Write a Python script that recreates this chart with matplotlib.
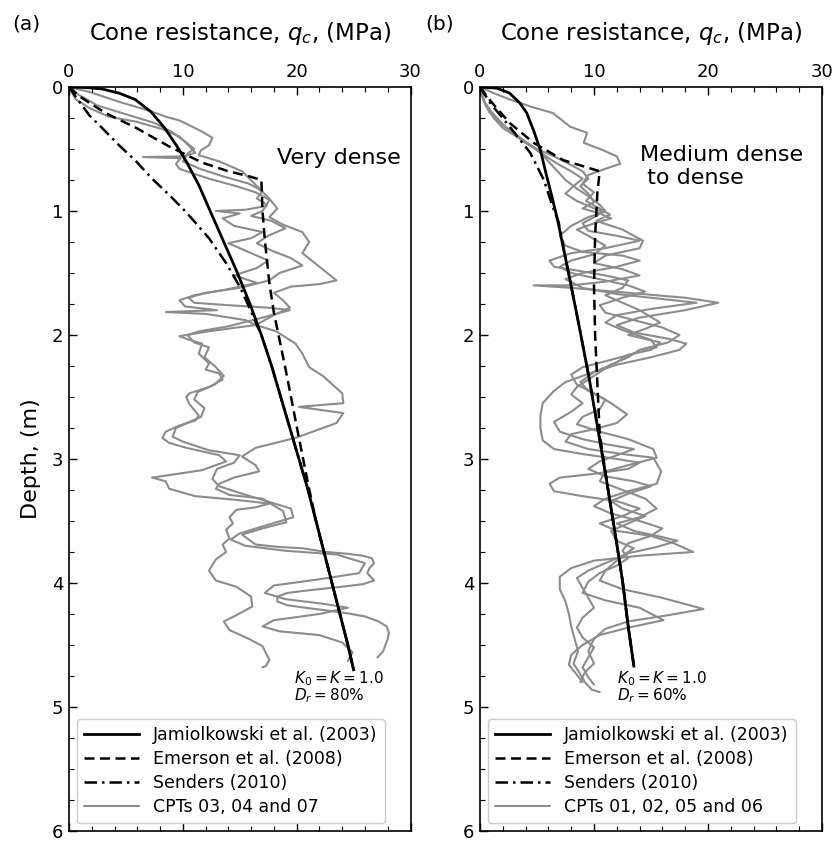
import matplotlib
matplotlib.use("Agg")
import matplotlib.pyplot as plt
import numpy as np

# ---------------- Panel (a): very dense sand ----------------
jam_a_q = [0, 1.5, 2.9, 4.4, 5.8, 7.2, 8.4, 9.5, 10.3, 11.4, 12.4, 13.6, 14.8, 15.9, 16.9, 17.8, 18.6,
           19.4, 20.2, 21.0, 21.7, 22.4, 23.1, 23.8, 24.5, 25.0]
jam_a_d = [0, 0.005, 0.016, 0.05, 0.10, 0.20, 0.33, 0.48, 0.60, 0.79, 1.0, 1.25, 1.5, 1.75, 2.0, 2.25, 2.5,
           2.75, 3.0, 3.25, 3.5, 3.75, 4.0, 4.25, 4.5, 4.70]

emer_a_q = [0, 1.0, 2.0, 3.2, 5.9, 8.8, 11.7, 14.0, 15.8, 16.9, 17.0, 17.2, 17.6, 18.0, 18.5, 19.1, 19.5,
            20.2, 21.0, 21.7, 22.4, 23.1, 23.8, 24.5, 25.0]
emer_a_d = [0, 0.08, 0.14, 0.21, 0.33, 0.48, 0.61, 0.68, 0.72, 0.75, 1.0, 1.23, 1.58, 1.82, 2.04, 2.31, 2.50,
            2.83, 3.20, 3.5, 3.75, 4.0, 4.25, 4.5, 4.70]

send_a_q = [0, 0.6, 1.8, 2.9, 4.4, 5.9, 7.3, 8.8, 10.3, 12.3, 13.8, 15.0, 15.8, 16.5, 16.9, 17.8, 18.6,
            19.4, 20.2, 21.0, 21.7, 22.4, 23.1, 23.8, 24.5, 25.0]
send_a_d = [0, 0.08, 0.23, 0.33, 0.47, 0.60, 0.74, 0.87, 1.01, 1.22, 1.42, 1.61, 1.77, 1.92, 2.0, 2.25, 2.5,
            2.75, 3.0, 3.25, 3.5, 3.75, 4.0, 4.25, 4.5, 4.70]

cpt_a1 = [(0, 0), (1.8, 0.04), (4.4, 0.12), (7.0, 0.19), (8.5, 0.24), (9.7, 0.27), (11.7, 0.36), (12.6, 0.41),
          (12.3, 0.47), (11.6, 0.51), (11.4, 0.55), (13.2, 0.60), (15.2, 0.68), (16.4, 0.79), (17.6, 0.90),
          (18.3, 0.98), (17.6, 1.05), (18.8, 1.11), (20.5, 1.17), (21.1, 1.25), (20.5, 1.34), (22.0, 1.45),
          (23.5, 1.56), (22.0, 1.59), (19.5, 1.61), (18.0, 1.66), (18.8, 1.72), (19.4, 1.78), (18.0, 1.84),
          (16.4, 1.92), (18.2, 1.97), (19.9, 2.07), (20.5, 2.15), (21.1, 2.26), (22.3, 2.33), (24.0, 2.47),
          (24.1, 2.55), (20.2, 2.58), (24.1, 2.63), (23.5, 2.71), (19.9, 2.83), (16.4, 2.91), (15.2, 2.98),
          (16.4, 3.05), (16.7, 3.10), (14.5, 3.15), (13.2, 3.20), (12.9, 3.24), (14.1, 3.29), (17.0, 3.32),
          (18.8, 3.42), (19.1, 3.51), (17.0, 3.56), (15.2, 3.61), (16.4, 3.69), (18.5, 3.71), (20.5, 3.72),
          (22.6, 3.75), (24.5, 3.765), (25.8, 3.78), (26.6, 3.80), (26.8, 3.84), (26.4, 3.88), (26.2, 3.92),
          (26.6, 3.96), (26.8, 3.98), (25.8, 4.01), (24.0, 4.03), (21.0, 4.06), (19.2, 4.08), (18.3, 4.11),
          (18.3, 4.15), (19.2, 4.18), (20.8, 4.20), (22.5, 4.22), (24.5, 4.245), (26.0, 4.27), (27.2, 4.31),
          (27.9, 4.35), (28.1, 4.40), (28.0, 4.45), (27.8, 4.50), (27.6, 4.55), (27.3, 4.58), (27.1, 4.60)]

cpt_a2 = [(0, 0), (0.6, 0.10), (1.8, 0.17), (3.5, 0.24), (5.9, 0.28), (8.2, 0.34), (9.7, 0.40), (10.6, 0.48),
          (11.1, 0.53), (10.0, 0.56), (6.5, 0.565), (9.8, 0.575), (9.4, 0.62), (9.7, 0.66), (12.3, 0.74),
          (14.7, 0.80), (16.4, 0.85), (17.6, 0.91), (17.3, 0.96), (15.5, 0.99), (12.9, 1.00), (15.0, 1.02),
          (13.5, 1.06), (14.5, 1.12), (17.0, 1.17), (16.0, 1.22), (14.0, 1.26), (15.5, 1.32), (17.5, 1.40),
          (16.5, 1.46), (14.5, 1.52), (16.5, 1.58), (14.0, 1.63), (11.0, 1.68), (9.7, 1.72), (10.2, 1.77),
          (13.0, 1.80), (8.5, 1.815), (12.0, 1.83), (15.5, 1.88), (16.4, 1.92), (12.3, 1.97), (9.7, 2.01),
          (10.6, 2.04), (11.7, 2.07), (11.4, 2.15), (12.3, 2.23), (12.0, 2.28), (13.2, 2.31), (13.5, 2.36),
          (12.3, 2.42), (10.6, 2.47), (10.3, 2.50), (10.6, 2.56), (11.4, 2.65), (11.1, 2.69), (9.7, 2.73),
          (8.5, 2.78), (8.2, 2.83), (8.8, 2.87), (10.3, 2.91), (13.2, 2.97), (13.8, 3.02), (11.7, 3.09),
          (8.8, 3.13), (7.3, 3.15), (8.5, 3.18), (8.8, 3.24), (11.1, 3.30), (14.7, 3.33), (17.6, 3.36),
          (16.4, 3.39), (14.7, 3.41), (14.1, 3.47), (14.4, 3.52), (13.8, 3.57), (14.1, 3.64), (13.5, 3.69),
          (13.8, 3.75), (12.9, 3.81), (12.3, 3.90), (12.9, 3.98), (14.7, 4.03), (16.0, 4.11), (16.1, 4.19),
          (14.7, 4.26), (13.6, 4.31), (14.1, 4.38), (15.8, 4.45), (17.0, 4.51), (17.6, 4.62), (17.3, 4.67),
          (17.0, 4.68)]

cpt_a3 = [(0, 0), (0.8, 0.06), (2.5, 0.15), (5.0, 0.22), (7.5, 0.29), (9.0, 0.36), (10.2, 0.44), (11.0, 0.50),
          (10.5, 0.53), (10.0, 0.60), (11.5, 0.66), (13.5, 0.72), (15.8, 0.78), (17.0, 0.84), (16.5, 0.90),
          (17.4, 0.95), (17.0, 1.00), (16.0, 1.04), (17.8, 1.08), (19.0, 1.14), (17.5, 1.20), (16.5, 1.26),
          (17.8, 1.32), (19.5, 1.38), (20.5, 1.44), (18.5, 1.50), (17.6, 1.56), (15.0, 1.62), (12.0, 1.66),
          (10.5, 1.70), (11.0, 1.74), (14.0, 1.76), (17.5, 1.78), (19.4, 1.80), (17.0, 1.86), (14.0, 1.93),
          (11.5, 1.97), (10.4, 2.00), (11.0, 2.06), (12.3, 2.10), (11.9, 2.18), (12.8, 2.25), (13.6, 2.33),
          (12.8, 2.40), (11.3, 2.46), (11.0, 2.52), (11.9, 2.59), (11.6, 2.66), (9.4, 2.75), (9.1, 2.82),
          (10.0, 2.86), (12.3, 2.93), (15.0, 2.97), (14.5, 3.03), (13.0, 3.08), (12.6, 3.16), (13.2, 3.22),
          (15.2, 3.28), (17.0, 3.33), (19.5, 3.40), (19.7, 3.47), (17.5, 3.53), (15.0, 3.60), (14.2, 3.65),
          (15.5, 3.70), (19.0, 3.74), (23.5, 3.77), (26.0, 3.84), (25.5, 3.92), (22.0, 3.97), (18.0, 4.02),
          (17.2, 4.08), (19.0, 4.13), (22.5, 4.17), (24.5, 4.20), (22.0, 4.25), (18.0, 4.30), (17.0, 4.35),
          (18.5, 4.39), (22.0, 4.42), (24.0, 4.48), (24.9, 4.56), (24.5, 4.63)]

# ---------------- Panel (b): medium dense to dense sand ----------------
jam_b_q = [0, 1.5, 2.6, 3.5, 4.1, 4.7, 5.3, 5.8, 6.3, 6.8, 7.3, 7.9, 8.7, 9.6, 10.4, 11.1, 11.8, 12.5, 13.0, 13.5]
jam_b_d = [0, 0.01, 0.05, 0.13, 0.21, 0.35, 0.51, 0.70, 0.88, 1.07, 1.29, 1.56, 1.93, 2.36, 2.79, 3.17, 3.57,
           3.98, 4.35, 4.67]

emer_b_q = [0, 0.9, 2.6, 4.7, 7.3, 10.5, 10.3, 10.1, 10.0, 10.1, 10.3, 10.5, 11.1, 11.8, 12.5, 13.0, 13.5]
emer_b_d = [0, 0.11, 0.29, 0.45, 0.59, 0.68, 0.85, 1.20, 1.60, 2.00, 2.40, 2.79, 3.17, 3.57, 3.98, 4.35, 4.67]

send_b_q = [0, 0.9, 2.6, 4.4, 5.6, 6.4, 6.9, 7.3, 7.9, 8.7, 9.6, 10.4, 11.1, 11.8, 12.5, 13.0, 13.5]
send_b_d = [0, 0.13, 0.32, 0.53, 0.75, 0.97, 1.09, 1.29, 1.56, 1.93, 2.36, 2.79, 3.17, 3.57, 3.98, 4.35, 4.67]

cpt_b1 = [(0, 0), (1.2, 0.05), (2.6, 0.10), (4.5, 0.16), (6.4, 0.21), (7.9, 0.32), (9.4, 0.37), (9.1, 0.45),
          (10.8, 0.51), (12.0, 0.56), (12.3, 0.62), (11.0, 0.66), (9.5, 0.71), (9.0, 0.78),
          (10.0, 0.85), (9.3, 0.92), (10.5, 0.98), (11.4, 1.03), (10.2, 1.08), (12.5, 1.15), (14.3, 1.24),
          (14.0, 1.30), (11.0, 1.36), (10.0, 1.42), (12.5, 1.47), (14.0, 1.52), (11.0, 1.57), (8.0, 1.60),
          (4.7, 1.60), (8.0, 1.62), (13.0, 1.66), (18.0, 1.70), (20.9, 1.74), (18.0, 1.80), (14.0, 1.86),
          (12.0, 1.92), (13.5, 1.98), (16.5, 2.03), (18.1, 2.07), (17.5, 2.12), (15.0, 2.18), (12.0, 2.24),
          (10.0, 2.30), (8.8, 2.38), (9.5, 2.45), (11.0, 2.52), (10.5, 2.60), (9.0, 2.66), (8.5, 2.72),
          (10.5, 2.78), (13.0, 2.84), (15.2, 2.92), (15.5, 2.99), (13.0, 3.05), (11.0, 3.10), (10.5, 3.18),
          (12.5, 3.25), (14.5, 3.32), (15.5, 3.40), (14.0, 3.47), (12.0, 3.52), (13.5, 3.58), (16.0, 3.63),
          (17.3, 3.66), (15.5, 3.71), (13.0, 3.76), (12.0, 3.82), (11.0, 3.90), (10.5, 3.98), (12.5, 4.05),
          (16.0, 4.12), (19.6, 4.21), (16.5, 4.26), (13.0, 4.31), (11.0, 4.37), (10.0, 4.45), (9.5, 4.55),
          (10.0, 4.65), (9.2, 4.72), (8.8, 4.80)]

cpt_b2 = [(0, 0), (0.3, 0.10), (0.8, 0.20), (1.6, 0.28), (2.8, 0.36), (4.0, 0.44), (5.2, 0.52), (6.0, 0.60),
          (6.8, 0.68), (7.5, 0.75), (8.5, 0.82), (9.5, 0.88), (10.5, 0.95), (11.0, 1.00), (10.0, 1.05),
          (9.0, 1.10), (9.5, 1.16), (12.0, 1.20), (14.0, 1.24), (11.0, 1.30), (8.0, 1.34), (6.1, 1.40),
          (6.5, 1.45), (8.5, 1.48), (11.0, 1.52), (13.0, 1.56), (12.5, 1.62), (11.0, 1.68), (12.5, 1.74),
          (14.0, 1.80), (15.8, 1.90), (14.5, 1.95), (13.0, 2.00), (15.8, 2.06), (15.0, 2.12), (13.0, 2.16),
          (12.0, 2.22), (10.5, 2.28), (9.0, 2.33), (7.5, 2.38), (6.5, 2.45), (5.5, 2.55), (5.3, 2.65),
          (5.3, 2.75), (5.5, 2.85), (6.5, 2.92), (9.0, 2.96), (12.0, 3.00), (14.0, 3.03), (13.0, 3.08),
          (10.0, 3.12), (7.0, 3.15), (6.1, 3.20), (6.5, 3.26), (9.0, 3.30), (12.0, 3.34), (14.0, 3.40),
          (12.5, 3.46), (10.5, 3.52), (12.0, 3.58), (15.0, 3.62), (17.0, 3.68), (18.7, 3.75), (14.0, 3.78),
          (10.0, 3.82), (8.0, 3.88), (7.0, 3.95), (7.0, 4.05), (7.5, 4.15), (7.8, 4.25), (8.0, 4.35),
          (8.3, 4.45), (8.6, 4.55), (8.2, 4.65), (8.7, 4.72), (9.2, 4.80), (9.8, 4.86), (10.5, 4.88)]

cpt_b3 = [(0, 0), (0.2, 0.08), (0.5, 0.15), (1.2, 0.25), (2.0, 0.33), (3.2, 0.40), (4.5, 0.48), (5.8, 0.56),
          (6.8, 0.62), (8.0, 0.68), (9.0, 0.74), (8.2, 0.80), (7.5, 0.86), (8.5, 0.92), (9.8, 0.97),
          (10.8, 1.01), (9.5, 1.05), (8.0, 1.12), (7.0, 1.20), (7.5, 1.28), (9.0, 1.33), (12.5, 1.36),
          (14.0, 1.40), (12.0, 1.45), (9.0, 1.50), (7.5, 1.55), (9.0, 1.62), (12.0, 1.67), (16.0, 1.71),
          (19.0, 1.74), (15.0, 1.79), (12.0, 1.84), (11.0, 1.90), (12.5, 1.96), (15.0, 2.04), (15.5, 2.10),
          (13.5, 2.15), (11.5, 2.20), (9.0, 2.26), (8.0, 2.32), (8.5, 2.40), (10.0, 2.47), (11.5, 2.55),
          (12.9, 2.64), (12.0, 2.71), (10.0, 2.76), (8.0, 2.80), (7.5, 2.86), (9.5, 2.92), (12.5, 2.96),
          (15.2, 2.99), (15.9, 3.10), (15.5, 3.20), (13.0, 3.26), (11.0, 3.32), (10.0, 3.38), (11.5, 3.44),
          (14.0, 3.50), (16.0, 3.56), (15.0, 3.62), (13.0, 3.68), (12.5, 3.74), (13.0, 3.80), (12.0, 3.86),
          (10.5, 3.92), (9.5, 3.99), (9.0, 4.08), (11.0, 4.14), (14.0, 4.20), (16.1, 4.30), (13.0, 4.36),
          (10.5, 4.42), (9.0, 4.50), (8.0, 4.58), (7.8, 4.66), (8.5, 4.74), (9.0, 4.80)]

cpt_b4 = [(0, 0), (0.4, 0.12), (1.0, 0.20), (2.0, 0.30), (3.0, 0.38), (3.8, 0.44), (5.0, 0.50), (6.5, 0.56),
          (7.8, 0.62), (9.0, 0.68), (9.5, 0.74), (8.8, 0.80), (9.5, 0.86), (10.0, 0.93), (9.0, 0.98),
          (10.5, 1.02), (11.5, 1.06), (10.0, 1.10), (8.5, 1.15), (9.5, 1.20), (11.0, 1.28), (10.0, 1.35),
          (8.0, 1.40), (7.0, 1.45), (8.0, 1.50), (10.5, 1.55), (13.0, 1.60), (14.5, 1.65), (12.5, 1.70),
          (10.5, 1.76), (11.0, 1.82), (13.5, 1.88), (16.0, 1.94), (17.5, 2.00), (16.5, 2.06), (14.0, 2.12),
          (13.0, 2.18), (11.5, 2.24), (10.5, 2.30), (9.5, 2.36), (8.5, 2.42), (8.0, 2.48), (9.0, 2.55),
          (8.0, 2.62), (6.5, 2.70), (7.0, 2.78), (9.0, 2.84), (11.0, 2.88), (13.5, 2.92), (12.0, 2.97),
          (10.5, 3.02), (9.5, 3.08), (11.0, 3.14), (13.5, 3.18), (15.0, 3.22), (13.0, 3.28), (11.5, 3.34),
          (12.5, 3.40), (14.5, 3.46), (13.0, 3.52), (11.5, 3.58), (12.0, 3.66), (13.5, 3.72), (12.5, 3.78),
          (11.0, 3.84), (9.5, 3.90), (8.5, 3.96), (9.0, 4.04), (9.5, 4.12), (10.0, 4.20), (9.0, 4.28),
          (8.5, 4.36), (9.0, 4.44), (10.0, 4.52), (9.5, 4.60), (9.0, 4.68), (9.5, 4.76), (10.0, 4.82)]

legend_labels = ["Jamiolkowski et al. (2003)", "Emerson et al. (2008)", "Senders (2010)"]
cpt_label_a = "CPTs 03, 04 and 07"
cpt_label_b = "CPTs 01, 02, 05 and 06"

GRAY = "#8c8c8c"

fig = plt.figure(figsize=(8.33, 8.41), dpi=100)
ax_a = fig.add_axes([0.0828, 0.0119, 0.4100, 0.8847])
ax_b = fig.add_axes([0.5762, 0.0119, 0.4106, 0.8847])


def draw_panel(ax, jam, emer, send, cpts, cpt_label, dr_text, kx, note, note_xy):
    ax.plot(jam[0], jam[1], color="black", lw=2.0, label=legend_labels[0],
            solid_joinstyle="round")
    ax.plot(emer[0], emer[1], color="black", lw=1.8, ls=(0, (4, 2.2)), label=legend_labels[1])
    ax.plot(send[0], send[1], color="black", lw=1.8, ls=(0, (5, 2, 1, 2)), label=legend_labels[2])
    for i, tr in enumerate(cpts):
        q = [p[0] for p in tr]
        d = [p[1] for p in tr]
        ax.plot(q, d, color=GRAY, lw=1.5, label=cpt_label if i == 0 else None, zorder=1.5,
                solid_joinstyle="round", solid_capstyle="round")

    ax.set_xlim(0, 30)
    ax.set_ylim(6, 0)
    ax.set_xticks([0, 10, 20, 30])
    ax.set_xticks(np.arange(0, 31, 2), minor=True)
    ax.set_yticks(range(7))
    ax.set_yticks(np.arange(0, 6.01, 0.25), minor=True)
    ax.tick_params(which="both", direction="in", top=True, bottom=True, left=True, right=False,
                   labeltop=True, labelbottom=False, labelsize=13, pad=4)
    ax.tick_params(which="major", length=6, width=1.0)
    ax.tick_params(which="minor", length=3.5, width=0.8)
    for s in ax.spines.values():
        s.set_linewidth(1.2)
    ax.xaxis.set_label_position("top")
    ax.set_xlabel("Cone resistance, $q_c$, (MPa)", fontsize=16.5, labelpad=17)

    ax.text(note_xy[0], note_xy[1], note, fontsize=16, ha="left", va="center", linespacing=1.15)
    ax.text(kx, 4.77, "$K_0 = K = 1.0$", fontsize=11, ha="left", va="center")
    ax.text(kx, 4.91, "$D_r = %s$" % dr_text, fontsize=11, ha="left", va="center")

    leg = ax.legend(loc="lower left", bbox_to_anchor=(0.0, 0.0), fontsize=12.5,
                    handlelength=3.2, frameon=True, fancybox=True, framealpha=1.0,
                    borderaxespad=0.45, labelspacing=0.35, borderpad=0.4)
    leg.get_frame().set_edgecolor("#cccccc")


draw_panel(ax_a, (jam_a_q, jam_a_d), (emer_a_q, emer_a_d), (send_a_q, send_a_d),
           [cpt_a1, cpt_a2, cpt_a3], cpt_label_a, r"80\%", 19.8, "Very dense", (18.3, 0.57))
draw_panel(ax_b, (jam_b_q, jam_b_d), (emer_b_q, emer_b_d), (send_b_q, send_b_d),
           [cpt_b1, cpt_b2, cpt_b3, cpt_b4], cpt_label_b, r"60\%", 12.0,
           "Medium dense\n to dense", (14.0, 0.64))

ax_a.set_ylabel("Depth, (m)", fontsize=16, labelpad=8)

fig.text(0.015, 0.972, "(a)", fontsize=14.5, ha="left", va="center")
fig.text(0.510, 0.972, "(b)", fontsize=14.5, ha="left", va="center")

fig.savefig("out.png", dpi=100)
